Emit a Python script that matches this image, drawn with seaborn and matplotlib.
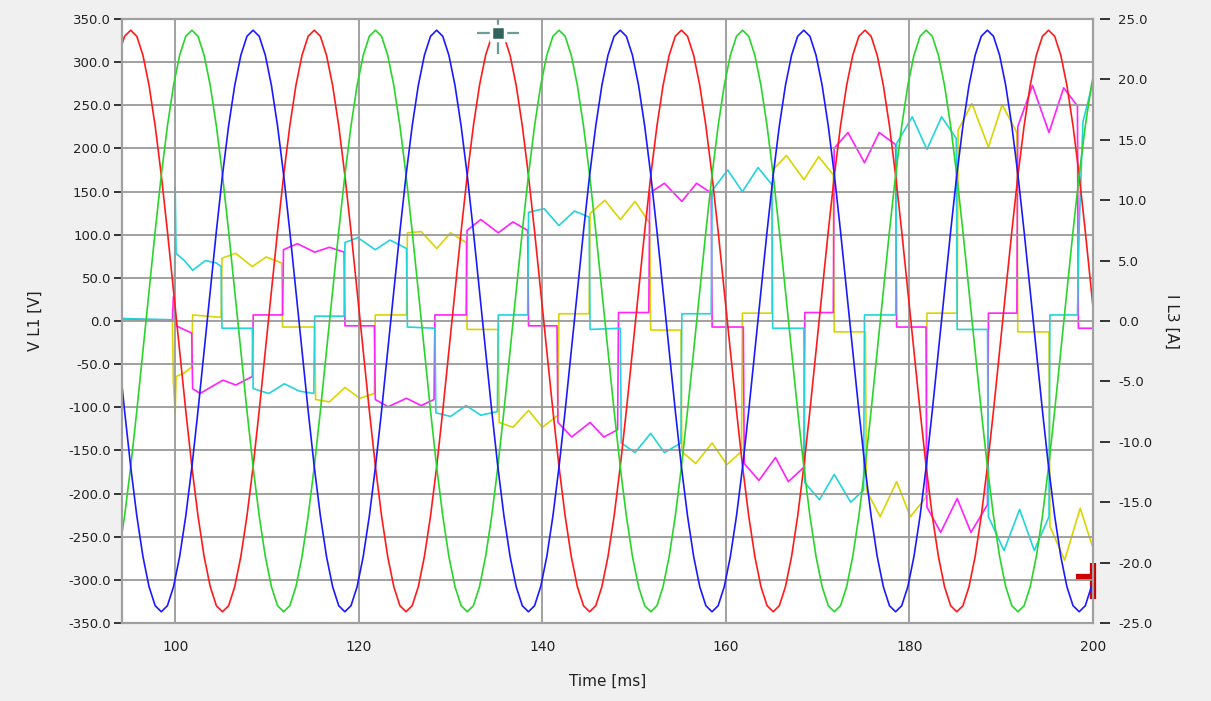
import numpy as np
import matplotlib
matplotlib.use("Agg")
import matplotlib.pyplot as plt
import seaborn as sns
from matplotlib.ticker import FormatStrFormatter

# phase voltages [V], one reading every 2/3 ms starting at 93.82 ms
v_t0 = 93.82
v_dt = 2 / 3
v_red = [
    308, 330,
    337, 330, 308, 273, 226, 169, 104, 35, -35, -104, -169, -226, -273, -308, -330,
    -337, -330, -308, -273, -226, -169, -104, -35, 35, 104, 169, 226, 273, 308, 330,
    337, 330, 308, 273, 226, 169, 104, 35, -35, -104, -169, -226, -273, -308, -330,
    -337, -330, -308, -273, -226, -169, -104, -35, 35, 104, 169, 226, 273, 308, 330,
    337, 330, 308, 273, 226, 169, 104, 35, -35, -104, -169, -226, -273, -308, -330,
    -337, -330, -308, -273, -226, -169, -104, -35, 35, 104, 169, 226, 273, 308, 330,
    337, 330, 308, 273, 226, 169, 104, 35, -35, -104, -169, -226, -273, -308, -330,
    -337, -330, -308, -273, -226, -169, -104, -35, 35, 104, 169, 226, 273, 308, 330,
    337, 330, 308, 273, 226, 169, 104, 35, -35, -104, -169, -226, -273, -308, -330,
    -337, -330, -308, -273, -226, -169, -104, -35, 35, 104, 169, 226, 273, 308, 330,
    337, 330, 308, 273, 226, 169, 104, 35, -35,
]
v_green = [
    -273, -226, -169, -104, -35, 35, 104, 169, 226, 273, 308, 330,
    337, 330, 308, 273, 226, 169, 104, 35, -35, -104, -169, -226, -273, -308, -330,
    -337, -330, -308, -273, -226, -169, -104, -35, 35, 104, 169, 226, 273, 308, 330,
    337, 330, 308, 273, 226, 169, 104, 35, -35, -104, -169, -226, -273, -308, -330,
    -337, -330, -308, -273, -226, -169, -104, -35, 35, 104, 169, 226, 273, 308, 330,
    337, 330, 308, 273, 226, 169, 104, 35, -35, -104, -169, -226, -273, -308, -330,
    -337, -330, -308, -273, -226, -169, -104, -35, 35, 104, 169, 226, 273, 308, 330,
    337, 330, 308, 273, 226, 169, 104, 35, -35, -104, -169, -226, -273, -308, -330,
    -337, -330, -308, -273, -226, -169, -104, -35, 35, 104, 169, 226, 273, 308, 330,
    337, 330, 308, 273, 226, 169, 104, 35, -35, -104, -169, -226, -273, -308, -330,
    -337, -330, -308, -273, -226, -169, -104, -35, 35, 104, 169, 226, 273, 308,
]
v_blue = [
    -35, -104, -169, -226, -273, -308, -330, -337, -330, -308, -273,
    -226, -169, -104, -35, 35, 104, 169, 226, 273, 308, 330,
    337, 330, 308, 273, 226, 169, 104, 35, -35, -104, -169, -226, -273, -308, -330,
    -337, -330, -308, -273, -226, -169, -104, -35, 35, 104, 169, 226, 273, 308, 330,
    337, 330, 308, 273, 226, 169, 104, 35, -35, -104, -169, -226, -273, -308, -330,
    -337, -330, -308, -273, -226, -169, -104, -35, 35, 104, 169, 226, 273, 308, 330,
    337, 330, 308, 273, 226, 169, 104, 35, -35, -104, -169, -226, -273, -308, -330,
    -337, -330, -308, -273, -226, -169, -104, -35, 35, 104, 169, 226, 273, 308, 330,
    337, 330, 308, 273, 226, 169, 104, 35, -35, -104, -169, -226, -273, -308, -330,
    -337, -330, -308, -273, -226, -169, -104, -35, 35, 104, 169, 226, 273, 308, 330,
    337, 330, 308, 273, 226, 169, 104, 35, -35, -104, -169, -226, -273, -308, -330,
    -337, -330, -308, -273,
]

# phase currents [A] as (time ms, value) readings
i_yellow = [
    (94.2, 0.1), (99.7, 0.0), (99.8, -5.0), (100.0, -7.6), (100.1, -4.6), (101.0, -4.3),
    (101.8, -3.8), (101.9, 0.5), (105.0, 0.3), (105.1, 5.2), (106.6, 5.6), (108.4, 4.5),
    (109.9, 5.3), (111.6, 4.8), (111.7, -0.5), (115.2, -0.5), (115.3, -6.5), (116.8, -6.7),
    (118.5, -5.5), (120.1, -6.4), (121.7, -6.0), (121.8, 0.5), (125.2, 0.5), (125.3, 7.3),
    (126.8, 7.4), (128.5, 6.0), (130.0, 7.3), (131.7, 6.5), (131.8, -0.7), (135.2, -0.7),
    (135.3, -8.4), (136.8, -8.8), (138.5, -7.4), (140.0, -8.8), (141.7, -7.8), (141.8, 0.6),
    (145.1, 0.6), (145.2, 8.9), (146.8, 10.0), (148.5, 8.4), (150.1, 9.9), (151.7, 8.1),
    (151.8, -0.75), (155.1, -0.75), (155.2, -10.8), (156.7, -11.8), (158.5, -10.1),
    (160.1, -11.9), (161.7, -10.8), (161.8, 0.65), (165.0, 0.65), (165.1, 12.5),
    (166.6, 13.7), (168.5, 11.7), (170.1, 13.6), (171.7, 12.1), (171.8, -0.9),
    (175.2, -0.9), (175.3, -14.0), (176.8, -16.2), (178.6, -13.3), (180.1, -16.2),
    (181.8, -14.6), (181.9, 0.65), (185.2, 0.65), (185.3, 15.8), (186.8, 18.0),
    (188.6, 14.4), (190.1, 17.9), (191.7, 15.6), (191.8, -0.9), (195.2, -0.9),
    (195.3, -17.0), (196.9, -19.8), (198.6, -15.5), (200.0, -18.8),
]
i_magenta = [
    (94.2, 0.2), (99.7, 0.0), (99.8, 2.0), (100.0, 0.5), (100.1, -0.4), (101.8, -1.0),
    (101.9, -5.6), (102.7, -6.0), (105.2, -4.9), (106.6, -5.3), (108.4, -4.6), (108.5, 0.5),
    (111.7, 0.5), (111.8, 5.9), (113.3, 6.4), (115.2, 5.7), (116.8, 6.1), (118.4, 5.7),
    (118.5, -0.4), (121.7, -0.4), (121.8, -6.5), (123.2, -7.1), (125.2, -6.4),
    (126.8, -7.0), (128.2, -6.5), (128.3, 0.5), (131.7, 0.5), (131.8, 7.5), (133.3, 8.4),
    (135.2, 7.3), (136.8, 8.2), (138.4, 7.5), (138.5, -0.4), (141.6, -0.4), (141.7, -8.4),
    (143.2, -9.6), (145.2, -8.4), (146.7, -9.6), (148.2, -9.0), (148.3, 0.7), (151.6, 0.7),
    (151.7, 10.6), (153.3, 11.4), (155.2, 9.9), (156.8, 11.4), (158.4, 10.6), (158.5, -0.5),
    (161.9, -0.5), (162.0, -11.8), (163.6, -13.2), (165.4, -11.3), (166.8, -13.3),
    (168.5, -12.1), (168.6, 0.7), (171.7, 0.7), (171.8, 14.3), (173.3, 15.6),
    (175.1, 13.1), (176.7, 15.6), (178.5, 14.6), (178.6, -0.5), (181.8, -0.5),
    (181.9, -15.4), (183.4, -17.5), (185.2, -14.7), (186.7, -17.5), (188.5, -15.2),
    (188.6, 0.65), (191.7, 0.65), (191.8, 16.1), (193.4, 19.5), (195.2, 15.6),
    (196.8, 19.3), (198.3, 17.8), (198.4, -0.6), (200.0, -0.6),
]
i_cyan = [
    (94.2, 0.2), (99.9, 0.1), (100.0, 11.0), (100.1, 5.6), (101.0, 5.0), (101.9, 4.2),
    (103.3, 5.0), (104.5, 4.8), (105.0, 4.5), (105.1, -0.6), (108.4, -0.6), (108.5, -5.6),
    (110.2, -6.0), (111.9, -5.2), (113.5, -5.8), (115.1, -6.0), (115.2, 0.4), (118.4, 0.4),
    (118.5, 6.5), (119.9, 6.9), (121.8, 5.9), (123.4, 6.7), (125.2, 6.0), (125.3, -0.5),
    (128.3, -0.6), (128.4, -7.6), (130.0, -7.9), (131.7, -7.0), (133.3, -7.8),
    (135.1, -7.5), (135.2, 0.5), (138.4, 0.5), (138.5, 9.0), (140.2, 9.3), (141.8, 7.9),
    (143.5, 9.1), (145.1, 8.6), (145.2, -0.7), (148.5, -0.6), (148.6, -10.1),
    (150.1, -10.9), (151.8, -9.3), (153.3, -10.9), (155.1, -10.1), (155.2, 0.6),
    (158.4, 0.6), (158.5, 10.8), (160.2, 12.5), (161.8, 10.7), (163.5, 12.7),
    (165.0, 11.3), (165.1, -0.6), (168.5, -0.6), (168.6, -13.4), (170.2, -14.8),
    (171.8, -12.7), (173.6, -15.0), (175.0, -14.0), (175.1, 0.5), (178.5, 0.5),
    (178.6, 14.7), (180.3, 16.9), (181.9, 14.2), (183.5, 16.9), (185.1, 15.1),
    (185.2, -0.7), (188.5, -0.7), (188.6, -16.2), (190.3, -19.0), (192.0, -15.6),
    (193.6, -19.0), (195.2, -16.2), (195.3, 0.5), (198.3, 0.5), (198.5, 8.0),
    (198.9, 16.5), (200.0, 19.8),
]

# cursor on the red peak and end marker on the current axis
cursor_t, cursor_v = 135.2, 334
end_mark_t, end_mark_i = 199.0, -21.2

v_ticks = np.arange(-350, 351, 50)
i_ticks = np.arange(-25, 26, 5)
t_ticks = [100, 120, 140, 160, 180, 200]

sns.set_style("white")
plt.rcParams["font.family"] = ["DejaVu Sans"]
plt.rcParams["axes.unicode_minus"] = False

fig = plt.figure(figsize=(12.11, 7.01), dpi=100, facecolor="#f0f0f0")
ax = fig.add_axes([0.1007, 0.1113, 0.8019, 0.8616])
ax2 = ax.twinx()
ax.set_zorder(2)
ax.patch.set_visible(False)
ax2.set_zorder(1)
ax2.patch.set_visible(True)
ax2.patch.set_facecolor("white")

for name, data, col in [("yellow", i_yellow, "#dcd400"),
                        ("magenta", i_magenta, "#ff22ff"),
                        ("cyan", i_cyan, "#22d4dc")]:
    tt = [p[0] for p in data]
    ii = [p[1] for p in data]
    sns.lineplot(x=tt, y=ii, ax=ax2, color=col, lw=1.2, estimator=None, sort=False, legend=False)

for vals, col in [(v_red, "#ff1a1a"), (v_green, "#2ad42a"), (v_blue, "#1a1aff")]:
    tv = v_t0 + v_dt * np.arange(len(vals))
    sns.lineplot(x=tv, y=vals, ax=ax, color=col, lw=1.2, estimator=None, sort=False, legend=False)

# cursor and end marker
ax.plot([cursor_t], [cursor_v], marker="+", ms=30, mew=1.6, color="#6f9c98", zorder=6)
ax.plot([cursor_t], [cursor_v], marker="s", ms=10, mfc="#2f635e", mec="white", mew=2.5, zorder=7)
ax2.plot([end_mark_t], [end_mark_i], marker="_", ms=11, mew=4.5, color="#cc0000", clip_on=False)
ax2.plot([200], [end_mark_i - 0.3], marker="|", ms=26, mew=4.5, color="#cc0000", clip_on=False)

ax.set_xlim(94.2, 200)
ax.set_ylim(-350, 350)
ax2.set_ylim(-25, 25)
ax.set_xticks(t_ticks)
ax.set_yticks(v_ticks)
ax2.set_yticks(i_ticks)
ax.yaxis.set_major_formatter(FormatStrFormatter("%.1f"))
ax2.yaxis.set_major_formatter(FormatStrFormatter("%.1f"))

ax.grid(True, color="#9a9a9a", lw=1.3)
ax.set_axisbelow(True)
for sp in ax.spines.values():
    sp.set_color("#a0a0a0")
    sp.set_linewidth(1.6)
for sp in ax2.spines.values():
    sp.set_visible(False)
ax2.spines["right"].set_position(("outward", 5))

ax.tick_params(axis="y", direction="out", length=6, width=1.4, color="#333333",
               labelsize=9.5, labelcolor="#222222", pad=2)
ax.tick_params(axis="x", direction="out", length=6, width=1.4, color="#333333",
               labelsize=10, labelcolor="#222222", pad=6)
ax2.tick_params(axis="y", direction="out", length=7, width=1.4, color="#333333",
                labelsize=9.5, labelcolor="#222222", pad=6)

fig.text(35 / 1211, 1 - 321 / 701, "V L1 [V]", rotation=90, ha="center", va="center",
         fontsize=11, color="#222222")
fig.text(1172 / 1211, 1 - 321 / 701, "I L3 [A]", rotation=270, ha="center", va="center",
         fontsize=11, color="#222222")
fig.text(608 / 1211, 1 - 681 / 701, "Time [ms]", ha="center", va="center",
         fontsize=11, color="#222222")

fig.savefig("out.png", dpi=100, facecolor=fig.get_facecolor())
